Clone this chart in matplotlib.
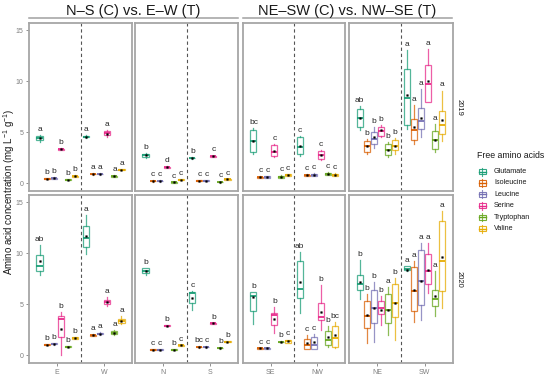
import matplotlib
matplotlib.use('Agg')
import matplotlib.pyplot as plt
from matplotlib.lines import Line2D
from matplotlib.patches import Rectangle

plt.rcParams['font.family'] = ['Liberation Sans', 'DejaVu Sans']
plt.rcParams['mathtext.fontset'] = 'custom'
plt.rcParams['mathtext.rm'] = 'Liberation Sans'

acids = ['Glutamate', 'Isoleucine', 'Leucine', 'Serine', 'Tryptophan', 'Valine']
colors = ['#1B9E77', '#D95F02', '#7570B3', '#E7298A', '#66A61E', '#E6AB02']
sites = ['E', 'W', 'N', 'S', 'SE', 'NW', 'NE', 'SW']
years = ['2019', '2020']
groups = ['N–S (C) vs. E–W (T)', 'NE–SW (C) vs. NW–SE (T)']

# [whisker low, q1, median, q3, whisker high] per site, per acid
box_2019 = [
    [[4.1, 4.25, 4.4, 4.6, 4.75], [0.4, 0.44, 0.47, 0.5, 0.53], [0.42, 0.47, 0.52, 0.57, 0.6],
     [3.25, 3.3, 3.35, 3.4, 3.45], [0.3, 0.33, 0.36, 0.4, 0.43], [0.62, 0.66, 0.7, 0.74, 0.78]],
    [[4.45, 4.5, 4.58, 4.65, 4.7], [0.85, 0.88, 0.92, 0.96, 0.98], [0.85, 0.88, 0.92, 0.96, 0.98],
     [4.5, 4.7, 4.9, 5.1, 5.2], [0.62, 0.66, 0.7, 0.74, 0.78], [1.27, 1.3, 1.35, 1.4, 1.45]],
    [[2.5, 2.6, 2.75, 2.9, 3.0], [0.18, 0.2, 0.23, 0.26, 0.28], [0.18, 0.2, 0.23, 0.26, 0.28],
     [1.5, 1.55, 1.6, 1.65, 1.7], [0.05, 0.08, 0.1, 0.13, 0.15], [0.3, 0.33, 0.36, 0.4, 0.43]],
    [[2.42, 2.45, 2.48, 2.52, 2.55], [0.2, 0.23, 0.26, 0.3, 0.33], [0.2, 0.22, 0.25, 0.28, 0.3],
     [2.58, 2.6, 2.65, 2.7, 2.73], [0.08, 0.1, 0.13, 0.16, 0.18], [0.33, 0.36, 0.4, 0.44, 0.47]],
    [[2.9, 3.1, 4.2, 5.2, 5.4], [0.5, 0.53, 0.59, 0.67, 0.7], [0.48, 0.52, 0.6, 0.7, 0.72],
     [2.55, 2.65, 3.1, 3.8, 3.9], [0.5, 0.55, 0.62, 0.75, 0.8], [0.7, 0.74, 0.8, 0.88, 0.92]],
    [[2.7, 2.85, 3.6, 4.5, 4.6], [0.68, 0.7, 0.77, 0.85, 0.88], [0.72, 0.75, 0.85, 0.95, 0.98],
     [2.25, 2.35, 2.75, 3.15, 3.25], [0.8, 0.85, 0.95, 1.05, 1.1], [0.72, 0.75, 0.85, 0.95, 0.98]],
    [[5.26, 5.52, 6.44, 7.31, 7.55], [2.84, 3.1, 3.63, 4.15, 4.31], [3.5, 3.82, 4.38, 5.03, 5.52],
     [4.54, 4.67, 5.13, 5.52, 5.75], [2.58, 2.77, 3.3, 3.82, 4.05], [2.91, 3.24, 3.63, 4.22, 4.48]],
    [[5.36, 5.75, 8.4, 11.18, 13.04], [3.82, 4.22, 5.2, 6.34, 7.65], [4.54, 5.29, 6.11, 7.38, 9.28],
     [7.97, 7.97, 9.7, 11.57, 13.2], [3.07, 3.33, 4.28, 5.1, 5.78], [4.2, 4.87, 5.75, 7.06, 9.1]],
]
mean_2019 = [
    [4.4, 0.47, 0.52, 3.35, 0.37, 0.7],
    [4.58, 0.92, 0.92, 4.85, 0.7, 1.35],
    [2.75, 0.23, 0.23, 1.6, 0.1, 0.37],
    [2.48, 0.26, 0.25, 2.65, 0.13, 0.4],
    [4.2, 0.6, 0.6, 3.2, 0.65, 0.81],
    [3.65, 0.78, 0.85, 2.75, 0.95, 0.85],
    [6.44, 3.7, 4.5, 5.2, 3.3, 3.7],
    [8.7, 5.52, 6.44, 10.0, 4.28, 6.18],
]
letters_2019 = [
    ['a', 'b', 'b', 'b', 'b', 'b'],
    ['a', 'a', 'a', 'a', 'a', 'a'],
    ['b', 'c', 'c', 'd', 'c', 'c'],
    ['b', 'c', 'c', 'c', 'c', 'c'],
    ['bc', 'c', 'c', 'c', 'c', 'c'],
    ['c', 'c', 'c', 'c', 'c', 'c'],
    ['ab', 'b', 'b', 'b', 'b', 'b'],
    ['a', 'a', 'a', 'a', 'a', 'a'],
]

box_2020 = [
    [[7.91, 8.3, 8.79, 9.87, 10.85], [0.98, 1.01, 1.05, 1.09, 1.12], [1.06, 1.1, 1.15, 1.2, 1.24],
     [0.0, 1.76, 3.6, 3.82, 4.25], [0.78, 0.81, 0.85, 0.89, 0.92], [1.6, 1.64, 1.7, 1.76, 1.8]],
    [[9.94, 10.62, 11.5, 12.65, 13.8], [1.85, 1.9, 1.96, 2.03, 2.08], [2.0, 2.05, 2.13, 2.22, 2.28],
     [4.8, 5.0, 5.2, 5.4, 5.7], [2.0, 2.05, 2.23, 2.4, 2.45], [3.1, 3.2, 3.34, 3.6, 3.85]],
    [[7.9, 8.1, 8.3, 8.55, 8.6], [0.5, 0.53, 0.56, 0.59, 0.62], [0.5, 0.53, 0.56, 0.59, 0.62],
     [2.85, 2.88, 2.91, 2.95, 2.98], [0.5, 0.53, 0.56, 0.59, 0.62], [0.92, 0.95, 0.98, 1.02, 1.05]],
    [[4.48, 5.13, 6.11, 6.21, 6.3], [0.76, 0.79, 0.82, 0.86, 0.88], [0.76, 0.79, 0.82, 0.86, 0.88],
     [3.08, 3.11, 3.14, 3.18, 3.2], [0.66, 0.69, 0.72, 0.76, 0.78], [1.27, 1.3, 1.34, 1.38, 1.42]],
    [[3.07, 4.38, 5.78, 6.21, 6.25], [0.63, 0.66, 0.69, 0.72, 0.75], [0.63, 0.66, 0.69, 0.72, 0.75],
     [2.2, 3.0, 3.92, 4.15, 4.7], [1.26, 1.29, 1.32, 1.35, 1.38], [1.2, 1.25, 1.37, 1.5, 1.55]],
    [[4.15, 5.62, 6.51, 9.28, 10.14], [0.66, 0.66, 1.05, 1.6, 2.0], [0.66, 0.66, 1.05, 1.76, 2.07],
     [2.52, 3.5, 3.79, 5.17, 6.86], [0.8, 1.05, 1.5, 2.42, 2.85], [0.75, 0.8, 1.69, 2.85, 3.3]],
    [[5.56, 6.44, 7.0, 7.84, 9.38], [1.2, 2.68, 3.82, 5.36, 6.02], [1.3, 3.19, 4.65, 6.44, 7.2],
     [2.94, 4.05, 4.65, 5.36, 5.78], [2.03, 3.19, 4.42, 6.05, 6.67], [1.5, 3.8, 5.13, 7.0, 7.59]],
    [[8.3, 8.35, 8.5, 8.73, 8.8], [3.27, 4.39, 6.28, 8.64, 9.22], [3.5, 4.97, 7.33, 10.36, 11.0],
     [6.11, 7.0, 8.24, 9.94, 11.0], [3.82, 4.8, 5.56, 6.44, 8.24], [4.65, 6.35, 9.22, 13.14, 14.12]],
]
mean_2020 = [
    [9.22, 1.05, 1.15, 2.55, 0.85, 1.7],
    [11.73, 1.96, 2.13, 5.2, 2.23, 3.34],
    [8.3, 0.56, 0.56, 2.91, 0.56, 0.98],
    [5.62, 0.82, 0.82, 3.14, 0.72, 1.34],
    [5.69, 0.69, 0.69, 3.6, 1.32, 1.37],
    [7.16, 1.24, 1.3, 4.28, 1.76, 2.0],
    [7.2, 3.92, 4.65, 4.42, 4.4, 5.13],
    [8.4, 6.37, 7.33, 8.4, 5.78, 9.61],
]
letters_2020 = [
    ['ab', 'b', 'b', 'b', 'b', 'b'],
    ['a', 'a', 'a', 'a', 'a', 'a'],
    ['b', 'c', 'c', 'b', 'b', 'c'],
    ['c', 'bc', 'c', 'b', 'b', 'b'],
    ['b', 'c', 'c', 'b', 'b', 'c'],
    ['ab', 'c', 'c', 'b', 'b', 'bc'],
    ['b', 'b', 'b', 'b', 'a', 'b'],
    ['a', 'a', 'a', 'a', 'a', 'a'],
]

boxes = [box_2019, box_2020]
means = [mean_2019, mean_2020]
letters = [letters_2019, letters_2020]

W, H = 550, 375
fig = plt.figure(figsize=(5.5, 3.75), dpi=100)

cols = [(29, 132), (135, 238), (243, 345), (349, 453)]
rows = [(23, 191), (195, 363)]
border = '#A6A6A6'
tickc = '#7F7F7F'

for r in range(2):
    for c in range(4):
        x0, x1 = cols[c]
        y0, y1 = rows[r]
        ax = fig.add_axes([x0 / W, 1 - y1 / H, (x1 - x0) / W, (y1 - y0) / H])
        ax.set_xlim(0.4, 2.6)
        ax.set_ylim(-0.75, 15.72)
        ax.axvline(1.5, color='#555555', ls=(0, (3, 2.5)), lw=0.8, zorder=1)
        for i in range(6):
            stats = []
            pos = []
            for k in range(2):
                s = 2 * c + k
                lo, q1, med, q3, hi = boxes[r][s][i]
                stats.append(dict(whislo=lo, q1=q1, med=med, q3=q3, whishi=hi,
                                  mean=means[r][s][i], fliers=[]))
                pos.append(k + 1 + (i - 2.5) * 0.15)
                ax.text(pos[-1], hi + 0.2, letters[r][s][i], ha='center', va='bottom',
                        fontsize=6, color='#262626')
            col = colors[i]
            ax.bxp(stats, positions=pos, widths=0.13, showmeans=True, showcaps=False,
                   showfliers=False, patch_artist=True, manage_ticks=False,
                   boxprops=dict(facecolor='white', edgecolor=col, alpha=0.75, linewidth=0.9),
                   whiskerprops=dict(color=col, alpha=0.75, linewidth=0.9),
                   medianprops=dict(color=col, linewidth=1.3),
                   meanprops=dict(marker='s', markerfacecolor='black', markeredgecolor='black',
                                  markersize=1.2, markeredgewidth=0.3))
        for sp in ax.spines.values():
            sp.set_color(border)
            sp.set_linewidth(1.3)
        ax.set_yticks([0, 5, 10, 15])
        ax.set_xticks([1, 2])
        if c == 0:
            ax.tick_params(axis='y', length=2.5, width=0.6, color=tickc, labelsize=5,
                           labelcolor=tickc, pad=1.5)
        else:
            ax.tick_params(axis='y', length=0, labelleft=False)
        if r == 1:
            ax.set_xticklabels(sites[2 * c:2 * c + 2])
            ax.tick_params(axis='x', length=2.5, width=0.6, color=tickc, labelsize=5,
                           labelcolor=tickc, pad=1.5)
        else:
            ax.tick_params(axis='x', length=0, labelbottom=False)

# top strips
for g, (xa, xb) in enumerate([(29, 238), (243, 452)]):
    fig.text((xa + xb) / 2 / W, 1 - 11.5 / H, groups[g], ha='center', va='center',
             fontsize=10.5, color='#1A1A1A')
    fig.add_artist(Line2D([xa / W, xb / W], [1 - 18.3 / H] * 2, color='#A0A0A0', lw=1.1))

# right strips
for r in range(2):
    yc = (rows[r][0] + rows[r][1]) / 2
    fig.text(459 / W, 1 - yc / H, years[r], rotation=270, ha='center', va='center',
             fontsize=5.5, color='#1A1A1A')

fig.text(9 / W, 1 - 191.5 / H, 'Amino acid concentration (mg L$^{-1}$ g$^{-1}$)',
         rotation=90, ha='center', va='center', fontsize=7, color='#1A1A1A')

# legend
lax = fig.add_axes([0, 0, 1, 1])
lax.set_xlim(0, W)
lax.set_ylim(H, 0)
lax.axis('off')
lax.text(477, 155.7, 'Free amino acids', ha='left', va='center', fontsize=6.3, color='#1A1A1A')
for i, name in enumerate(acids):
    yc = 171.6 + i * 11.4
    col = colors[i]
    lax.plot([482, 482], [yc - 4, yc + 4], color=col, lw=0.8, alpha=0.8)
    lax.add_patch(Rectangle((478.5, yc - 2.6), 7, 5.2, facecolor='white', edgecolor=col,
                            lw=0.8, alpha=0.9))
    lax.plot([478.5, 485.5], [yc, yc], color=col, lw=1.0)
    lax.text(494, yc, name, ha='left', va='center', fontsize=5.2, color='#1A1A1A')

fig.savefig('out.png', dpi=100)
